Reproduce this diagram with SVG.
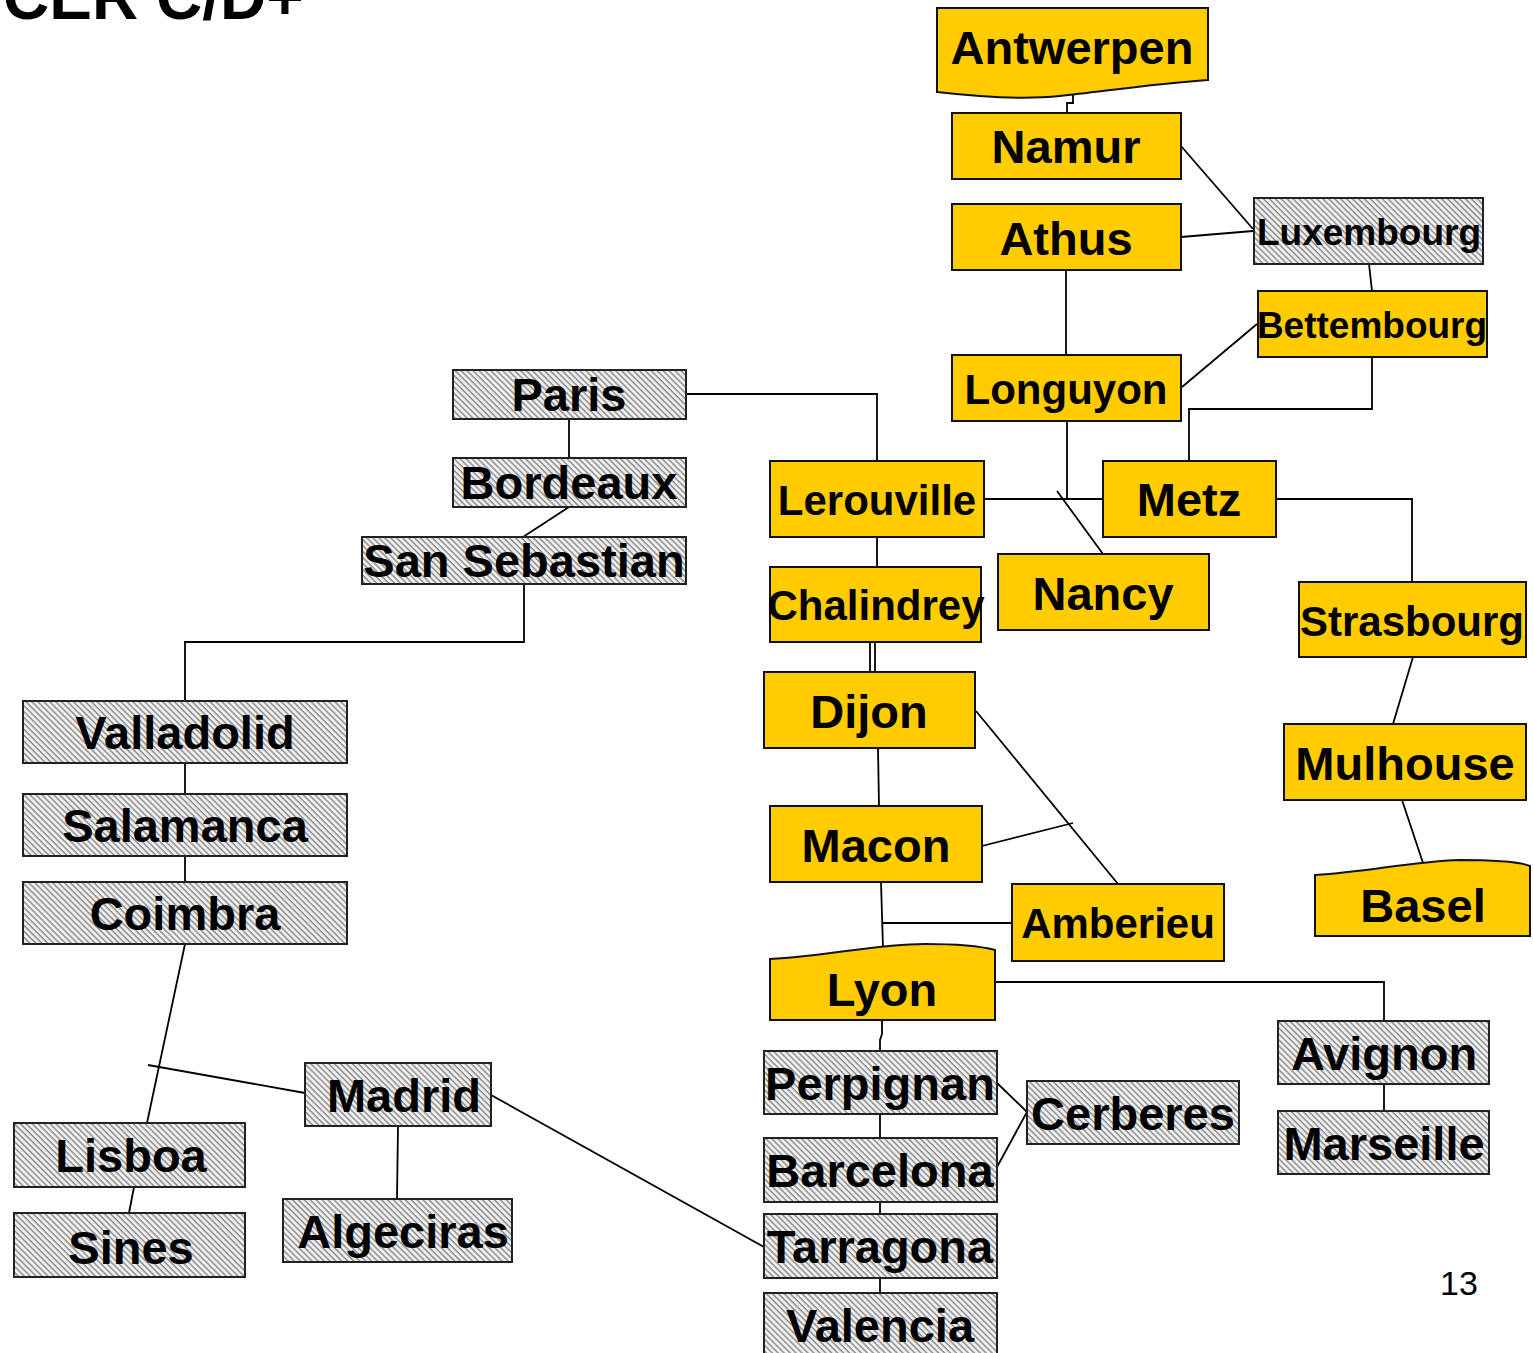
<svg xmlns="http://www.w3.org/2000/svg" width="1533" height="1353" viewBox="0 0 1533 1353">
<defs>
<pattern id="hatch" patternUnits="userSpaceOnUse" width="4.2" height="4.2" patternTransform="rotate(-45)">
<rect width="4.2" height="4.2" fill="#f2f2f2"/>
<line x1="1" y1="0" x2="1" y2="4.2" stroke="#8c8c8c" stroke-width="1.5"/>
</pattern>
</defs>
<style>
.y{fill:#FFCC00;stroke:#111;stroke-width:2}
.h{fill:url(#hatch);stroke:#222;stroke-width:2}
.t{font-family:"Liberation Sans",Arial,sans-serif;font-weight:bold;fill:#000;text-anchor:middle;font-size:47px}
.m{font-size:42px}
.s{font-size:37px}
.c{fill:none;stroke:#000;stroke-width:1.8}
</style>
<rect width="1533" height="1353" fill="#fff"/>
<text x="3" y="19" style="font-family:'Liberation Sans',Arial,sans-serif;font-weight:bold;font-size:64px">CER C/D+</text>
<g id="connectors" class="c">
<path d="M1073,94 V103 H1067 V113"/>
<path d="M1181,146 L1253,229"/>
<path d="M1181,237 L1253,231"/>
<path d="M1369,264 L1372,291"/>
<path d="M1182,387 L1257,324"/>
<path d="M1372,357 V409 H1189 V461"/>
<path d="M1066,270 V355"/>
<path d="M1067,421 V499"/>
<path d="M984,499 H1103"/>
<path d="M1057,491 L1103,554"/>
<path d="M686,394 H877 V461"/>
<path d="M569,419 V458"/>
<path d="M569,507 L523,537"/>
<path d="M524,584 V642 H185 V701"/>
<path d="M185,763 V794"/>
<path d="M185,856 V882"/>
<path d="M185,944 L147,1123"/>
<path d="M148,1065 L305,1093"/>
<path d="M134,1187 L129,1213"/>
<path d="M398,1126 L397,1199"/>
<path d="M491,1095 L764,1247"/>
<path d="M877,537 V567"/>
<path d="M870,642 V672 M875,642 V672"/>
<path d="M878,748 L879,806"/>
<path d="M976,711 L1118,884"/>
<path d="M982,846 L1073,823"/>
<path d="M881,882 L883,948"/>
<path d="M882,923 H1012"/>
<path d="M995,982 H1384 V1021"/>
<path d="M1384,1084 V1111"/>
<path d="M882,1020 V1034 L880,1040 V1051"/>
<path d="M997,1083 L1027,1112 L997,1167"/>
<path d="M880,1114 V1138"/>
<path d="M880,1202 V1214"/>
<path d="M880,1278 V1293"/>
<path d="M1413,657 L1393,724"/>
<path d="M1402,800 L1423,863"/>
<path d="M1276,499 H1412 V582"/>
</g>
<g id="antwerpen"><path class="y" d="M937,8 H1208 V80 C1150,84 1100,92 1060,96 C1020,100 980,97 937,92 Z"/><text class="t" x="1072" y="64">Antwerpen</text></g>
<g id="namur"><rect class="y" x="952" y="113" width="229" height="66"/><text class="t" x="1066" y="163">Namur</text></g>
<g id="athus"><rect class="y" x="952" y="204" width="229" height="66"/><text class="t" x="1066" y="255">Athus</text></g>
<g id="luxembourg"><rect class="h" x="1254" y="198" width="229" height="66"/><text class="t s" x="1369" y="245">Luxembourg</text></g>
<g id="bettembourg"><rect class="y" x="1258" y="291" width="229" height="66"/><text class="t s" x="1372" y="338">Bettembourg</text></g>
<g id="longuyon"><rect class="y" x="952" y="355" width="229" height="66"/><text class="t m" x="1066" y="404">Longuyon</text></g>
<g id="paris"><rect class="h" x="453" y="370" width="233" height="49"/><text class="t" x="569" y="411">Paris</text></g>
<g id="bordeaux"><rect class="h" x="453" y="458" width="233" height="49"/><text class="t" x="569" y="499">Bordeaux</text></g>
<g id="sansebastian"><rect class="h" x="362" y="537" width="324" height="47"/><text class="t" x="524" y="577">San Sebastian</text></g>
<g id="lerouville"><rect class="y" x="770" y="461" width="214" height="76"/><text class="t m" x="877" y="515">Lerouville</text></g>
<g id="metz"><rect class="y" x="1103" y="461" width="173" height="76"/><text class="t" x="1189" y="516">Metz</text></g>
<g id="nancy"><rect class="y" x="998" y="554" width="211" height="76"/><text class="t" x="1103" y="610">Nancy</text></g>
<g id="strasbourg"><rect class="y" x="1299" y="582" width="227" height="75"/><text class="t m" x="1412" y="636">Strasbourg</text></g>
<g id="chalindrey"><rect class="y" x="770" y="567" width="211" height="75"/><text class="t m" x="876" y="620">Chalindrey</text></g>
<g id="dijon"><rect class="y" x="764" y="672" width="211" height="76"/><text class="t" x="869" y="728">Dijon</text></g>
<g id="mulhouse"><rect class="y" x="1284" y="724" width="242" height="76"/><text class="t" x="1405" y="780">Mulhouse</text></g>
<g id="macon"><rect class="y" x="770" y="806" width="212" height="76"/><text class="t" x="876" y="862">Macon</text></g>
<g id="basel"><path class="y" d="M1315,875 C1370,872 1405,862 1460,860 C1500,860 1520,862 1530,866 V936 H1315 Z"/><text class="t" x="1423" y="922">Basel</text></g>
<g id="amberieu"><rect class="y" x="1012" y="884" width="212" height="77"/><text class="t m" x="1118" y="938">Amberieu</text></g>
<g id="lyon"><path class="y" d="M770,959 C830,956 875,944 925,944 C960,944 980,946 995,950 V1020 H770 Z"/><text class="t" x="882" y="1006">Lyon</text></g>
<g id="valladolid"><rect class="h" x="23" y="701" width="324" height="62"/><text class="t" x="185" y="749">Valladolid</text></g>
<g id="salamanca"><rect class="h" x="23" y="794" width="324" height="62"/><text class="t" x="185" y="842">Salamanca</text></g>
<g id="coimbra"><rect class="h" x="23" y="882" width="324" height="62"/><text class="t" x="185" y="930">Coimbra</text></g>
<g id="avignon"><rect class="h" x="1278" y="1021" width="211" height="63"/><text class="t" x="1384" y="1070">Avignon</text></g>
<g id="marseille"><rect class="h" x="1278" y="1111" width="211" height="63"/><text class="t" x="1384" y="1160">Marseille</text></g>
<g id="perpignan"><rect class="h" x="764" y="1051" width="233" height="63"/><text class="t" x="880" y="1100">Perpignan</text></g>
<g id="cerberes"><rect class="h" x="1027" y="1081" width="212" height="63"/><text class="t" x="1133" y="1130">Cerberes</text></g>
<g id="barcelona"><rect class="h" x="764" y="1138" width="233" height="64"/><text class="t" x="880" y="1187">Barcelona</text></g>
<g id="tarragona"><rect class="h" x="764" y="1214" width="233" height="64"/><text class="t" x="880" y="1263">Tarragona</text></g>
<g id="valencia"><rect class="h" x="764" y="1293" width="233" height="64"/><text class="t" x="880" y="1342">Valencia</text></g>
<g id="madrid"><rect class="h" x="305" y="1063" width="186" height="63"/><text class="t" x="404" y="1112">Madrid</text></g>
<g id="lisboa"><rect class="h" x="14" y="1123" width="231" height="64"/><text class="t" x="131" y="1172">Lisboa</text></g>
<g id="sines"><rect class="h" x="14" y="1213" width="231" height="64"/><text class="t" x="131" y="1264">Sines</text></g>
<g id="algeciras"><rect class="h" x="283" y="1199" width="229" height="63"/><text class="t" x="403" y="1248">Algeciras</text></g>
<text x="1459" y="1295" style="font-family:'Liberation Sans',Arial,sans-serif;font-size:34px;text-anchor:middle">13</text>
</svg>
